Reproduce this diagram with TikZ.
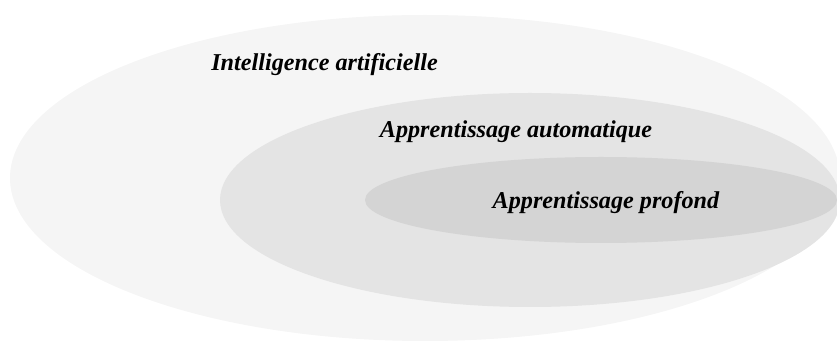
\documentclass[tikz,border=0pt]{standalone}
\usepackage{fontspec}
\setmainfont{Liberation Serif}
\begin{document}
\begin{tikzpicture}[x=1pt,y=1pt,
  label/.style={font=\fontsize{24.2}{27}\selectfont\bfseries\itshape, inner sep=0pt, text=black}]
  \useasboundingbox (0,0) rectangle (837,345);
  \clip (0,0) rectangle (837,345);
  % nested fields, outermost first
  \fill[fill={rgb,255:red,245;green,245;blue,245}] (425,167) ellipse [x radius=415, y radius=163];
  \fill[fill={rgb,255:red,228;green,228;blue,228}] (530,145) ellipse [x radius=310, y radius=107];
  \fill[fill={rgb,255:red,212;green,212;blue,212}] (601,145) ellipse [x radius=236, y radius=43];
  % field names
  \node[label] (ia) at (324.5,280) {Intelligence artificielle};
  \node[label] (ml) at (516,213) {Apprentissage automatique};
  \node[label] (dl) at (606,142) {Apprentissage profond};
\end{tikzpicture}
\end{document}
